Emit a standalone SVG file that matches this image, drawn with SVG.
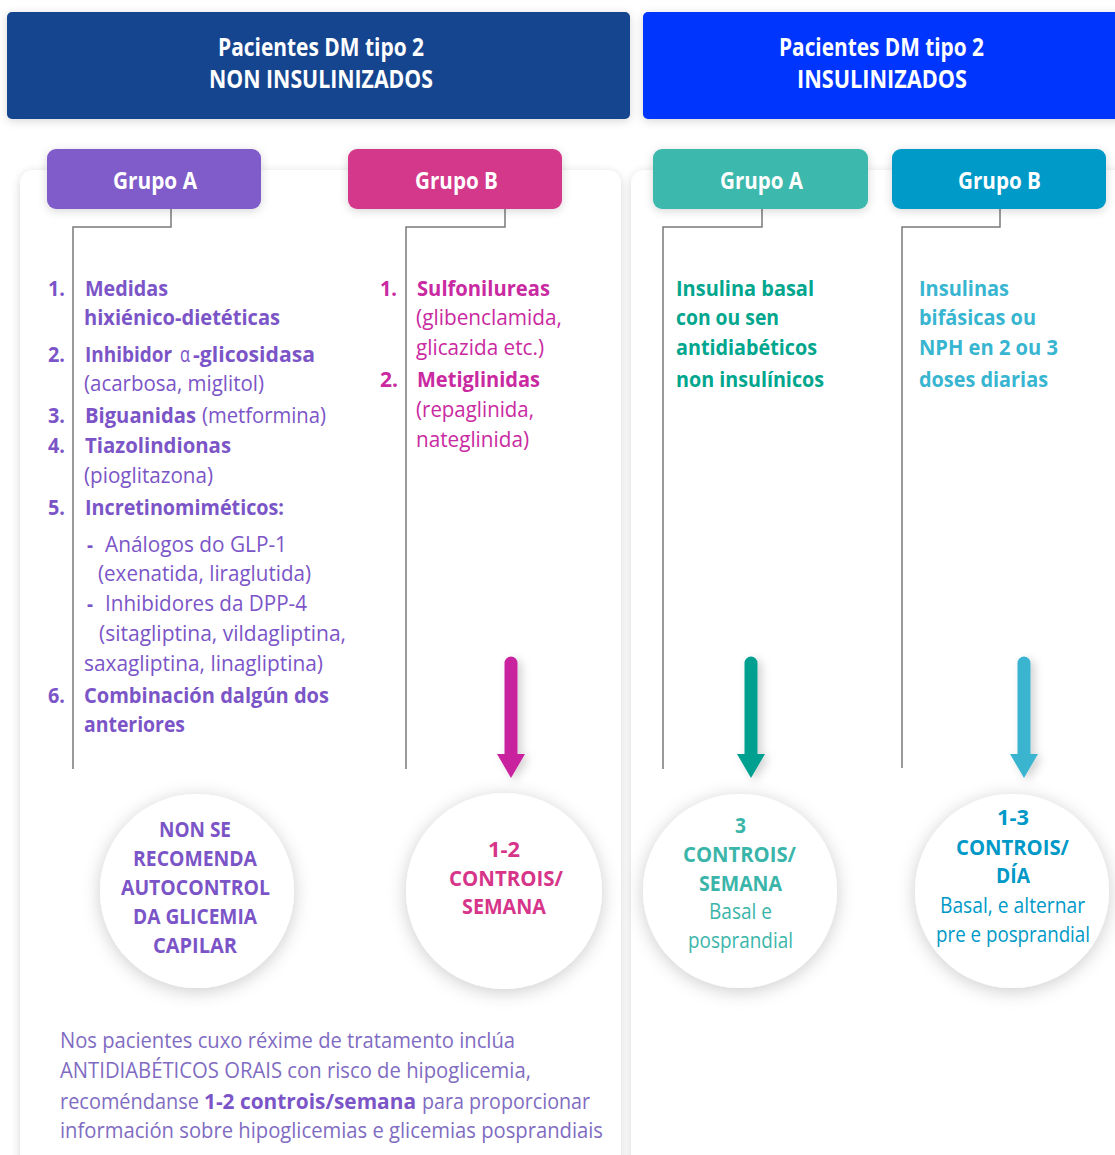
<svg xmlns="http://www.w3.org/2000/svg" width="1115" height="1155" viewBox="0 0 1115 1155">
<defs>
<style>
text{font-family:"Open Sans","Noto Sans","Liberation Sans",sans-serif;}
.hd{font-size:25px;font-weight:700;fill:#fff;}
.gp{font-size:24px;font-weight:700;fill:#fff;}
.b{font-weight:700;}
.r{font-weight:400;}
.li{font-size:22px;}
.pu{fill:#7b55c7;}
.mg{fill:#c92aa1;}
.tl{fill:#00a68d;}
.sk{fill:#38b5d0;}
.ct{font-size:22px;font-weight:700;}
.cr{font-size:22px;font-weight:400;}
.bt{font-size:22px;fill:#7f6cc2;}
.conn{fill:none;stroke:#7a7a7a;stroke-width:1.5;}
</style>
<filter id="sh" x="-20%" y="-20%" width="140%" height="140%">
<feDropShadow dx="0" dy="2" stdDeviation="5" flood-color="#000" flood-opacity="0.16"/>
</filter>
<filter id="shc" x="-30%" y="-30%" width="160%" height="160%">
<feDropShadow dx="0" dy="3" stdDeviation="9" flood-color="#000" flood-opacity="0.2"/>
</filter>
<filter id="sha" x="-100%" y="-20%" width="300%" height="140%">
<feDropShadow dx="4" dy="3" stdDeviation="5" flood-color="#000" flood-opacity="0.18"/>
</filter>
</defs>
<rect width="1115" height="1155" fill="#fff"/>

<!-- panels -->
<g id="panels">
<rect x="20" y="170" width="601" height="1010" rx="14" fill="#fff" filter="url(#sh)"/>
<rect x="631" y="170" width="500" height="1010" rx="14" fill="#fff" filter="url(#sh)"/>
</g>

<!-- headers -->
<g id="header-non">
<rect x="7" y="12" width="623" height="107" rx="5" fill="#14458f" filter="url(#sh)"/>
<text class="hd" x="218" y="56" textLength="206" lengthAdjust="spacingAndGlyphs">Pacientes DM tipo 2</text>
<text class="hd" x="209" y="88" textLength="224" lengthAdjust="spacingAndGlyphs">NON INSULINIZADOS</text>
</g>
<g id="header-ins">
<rect x="643" y="12" width="490" height="107" rx="5" fill="#0535fd" filter="url(#sh)"/>
<text class="hd" x="779" y="56" textLength="205" lengthAdjust="spacingAndGlyphs">Pacientes DM tipo 2</text>
<text class="hd" x="797" y="88" textLength="170" lengthAdjust="spacingAndGlyphs">INSULINIZADOS</text>
</g>

<!-- connectors -->
<g id="connectors">
<path class="conn" d="M171 209 V227 H73 V769"/>
<path class="conn" d="M505 209 V227 H406 V769"/>
<path class="conn" d="M762 209 V227 H663 V769"/>
<path class="conn" d="M1000 209 V227 H902 V768"/>
<g filter="url(#sha)">
<line x1="511" y1="663" x2="511" y2="758" stroke="#c9229f" stroke-width="13" stroke-linecap="round"/>
<polygon points="497,754 525,754 511,778" fill="#c9229f"/>
</g>
<g filter="url(#sha)">
<line x1="751" y1="663" x2="751" y2="758" stroke="#00a090" stroke-width="13" stroke-linecap="round"/>
<polygon points="737,754 765,754 751,778" fill="#00a090"/>
</g>
<g filter="url(#sha)">
<line x1="1024" y1="663" x2="1024" y2="758" stroke="#3ab5cf" stroke-width="13" stroke-linecap="round"/>
<polygon points="1010,754 1038,754 1024,778" fill="#3ab5cf"/>
</g>
</g>

<!-- group buttons -->
<g id="grupo-a-non">
<rect x="47" y="149" width="214" height="60" rx="9" fill="#7f5bc9" filter="url(#sh)"/>
<text class="gp" x="113" y="189" textLength="84" lengthAdjust="spacingAndGlyphs">Grupo A</text>
</g>
<g id="grupo-b-non">
<rect x="348" y="149" width="214" height="60" rx="9" fill="#d4388a" filter="url(#sh)"/>
<text class="gp" x="415" y="189" textLength="83" lengthAdjust="spacingAndGlyphs">Grupo B</text>
</g>
<g id="grupo-a-ins">
<rect x="653" y="149" width="215" height="60" rx="9" fill="#3db8ad" filter="url(#sh)"/>
<text class="gp" x="720" y="189" textLength="83" lengthAdjust="spacingAndGlyphs">Grupo A</text>
</g>
<g id="grupo-b-ins">
<rect x="892" y="149" width="214" height="60" rx="9" fill="#009ac8" filter="url(#sh)"/>
<text class="gp" x="958" y="189" textLength="83" lengthAdjust="spacingAndGlyphs">Grupo B</text>
</g>

<!-- list A non -->
<g id="lista-a-non" class="li pu">
<text class="b" x="48" y="296" textLength="17" lengthAdjust="spacingAndGlyphs">1.</text>
<text class="b" x="85" y="296" textLength="83" lengthAdjust="spacingAndGlyphs">Medidas</text>
<text class="b" x="84" y="325" textLength="196" lengthAdjust="spacingAndGlyphs">hixiénico-dietéticas</text>
<text class="b" x="48" y="362" textLength="17" lengthAdjust="spacingAndGlyphs">2.</text>
<text class="b" x="85" y="362" textLength="87" lengthAdjust="spacingAndGlyphs">Inhibidor</text>
<text class="r" x="180" y="362" textLength="10" lengthAdjust="spacingAndGlyphs">α</text>
<text class="b" x="193" y="362" textLength="122" lengthAdjust="spacingAndGlyphs">-glicosidasa</text>
<text class="r" x="84" y="391" textLength="180" lengthAdjust="spacingAndGlyphs">(acarbosa, miglitol)</text>
<text class="b" x="48" y="423" textLength="17" lengthAdjust="spacingAndGlyphs">3.</text>
<text class="b" x="85" y="423" textLength="111" lengthAdjust="spacingAndGlyphs">Biguanidas</text>
<text class="r" x="202" y="423" textLength="124" lengthAdjust="spacingAndGlyphs">(metformina)</text>
<text class="b" x="48" y="453" textLength="17" lengthAdjust="spacingAndGlyphs">4.</text>
<text class="b" x="85" y="453" textLength="146" lengthAdjust="spacingAndGlyphs">Tiazolindionas</text>
<text class="r" x="84" y="483" textLength="129" lengthAdjust="spacingAndGlyphs">(pioglitazona)</text>
<text class="b" x="48" y="515" textLength="17" lengthAdjust="spacingAndGlyphs">5.</text>
<text class="b" x="85" y="515" textLength="199" lengthAdjust="spacingAndGlyphs">Incretinomiméticos:</text>
<text class="b" x="87" y="552" textLength="6" lengthAdjust="spacingAndGlyphs">-</text>
<text class="r" x="105" y="552" textLength="182" lengthAdjust="spacingAndGlyphs">Análogos do GLP-1</text>
<text class="r" x="98" y="581" textLength="213" lengthAdjust="spacingAndGlyphs">(exenatida, liraglutida)</text>
<text class="b" x="87" y="611" textLength="6" lengthAdjust="spacingAndGlyphs">-</text>
<text class="r" x="105" y="611" textLength="202" lengthAdjust="spacingAndGlyphs">Inhibidores da DPP-4</text>
<text class="r" x="99" y="641" textLength="247" lengthAdjust="spacingAndGlyphs">(sitagliptina, vildagliptina,</text>
<text class="r" x="84" y="671" textLength="239" lengthAdjust="spacingAndGlyphs">saxagliptina, linagliptina)</text>
<text class="b" x="48" y="703" textLength="17" lengthAdjust="spacingAndGlyphs">6.</text>
<text class="b" x="84" y="703" textLength="245" lengthAdjust="spacingAndGlyphs">Combinación dalgún dos</text>
<text class="b" x="84" y="732" textLength="101" lengthAdjust="spacingAndGlyphs">anteriores</text>
</g>

<!-- list B non -->
<g id="lista-b-non" class="li mg">
<text class="b" x="380" y="296" textLength="17" lengthAdjust="spacingAndGlyphs">1.</text>
<text class="b" x="417" y="296" textLength="133" lengthAdjust="spacingAndGlyphs">Sulfonilureas</text>
<text class="r" x="416" y="325" textLength="146" lengthAdjust="spacingAndGlyphs">(glibenclamida,</text>
<text class="r" x="416" y="355" textLength="128" lengthAdjust="spacingAndGlyphs">glicazida etc.)</text>
<text class="b" x="380" y="387" textLength="18" lengthAdjust="spacingAndGlyphs">2.</text>
<text class="b" x="417" y="387" textLength="123" lengthAdjust="spacingAndGlyphs">Metiglinidas</text>
<text class="r" x="416" y="417" textLength="118" lengthAdjust="spacingAndGlyphs">(repaglinida,</text>
<text class="r" x="416" y="447" textLength="113" lengthAdjust="spacingAndGlyphs">nateglinida)</text>
</g>

<!-- list A ins -->
<g id="lista-a-ins" class="li tl b">
<text x="676" y="296" textLength="138" lengthAdjust="spacingAndGlyphs">Insulina basal</text>
<text x="676" y="325" textLength="103" lengthAdjust="spacingAndGlyphs">con ou sen</text>
<text x="676" y="355" textLength="141" lengthAdjust="spacingAndGlyphs">antidiabéticos</text>
<text x="676" y="387" textLength="148" lengthAdjust="spacingAndGlyphs">non insulínicos</text>
</g>

<!-- list B ins -->
<g id="lista-b-ins" class="li sk b">
<text x="919" y="296" textLength="90" lengthAdjust="spacingAndGlyphs">Insulinas</text>
<text x="919" y="325" textLength="117" lengthAdjust="spacingAndGlyphs">bifásicas ou</text>
<text x="919" y="355" textLength="139" lengthAdjust="spacingAndGlyphs">NPH en 2 ou 3</text>
<text x="919" y="387" textLength="129" lengthAdjust="spacingAndGlyphs">doses diarias</text>
</g>

<!-- circles -->
<g id="circulo-a-non">
<circle cx="197" cy="891" r="97" fill="#fff" filter="url(#shc)"/>
<g class="ct pu">
<text x="159" y="837" textLength="72" lengthAdjust="spacingAndGlyphs">NON SE</text>
<text x="133" y="866" textLength="124" lengthAdjust="spacingAndGlyphs">RECOMENDA</text>
<text x="121" y="895" textLength="149" lengthAdjust="spacingAndGlyphs">AUTOCONTROL</text>
<text x="133" y="924" textLength="124" lengthAdjust="spacingAndGlyphs">DA GLICEMIA</text>
<text x="153" y="953" textLength="84" lengthAdjust="spacingAndGlyphs">CAPILAR</text>
</g>
</g>
<g id="circulo-b-non">
<circle cx="504" cy="891" r="98" fill="#fff" filter="url(#shc)"/>
<g class="ct" fill="#d6358a">
<text x="488" y="857" textLength="32" lengthAdjust="spacingAndGlyphs">1-2</text>
<text x="449" y="886" textLength="114" lengthAdjust="spacingAndGlyphs">CONTROIS/</text>
<text x="462" y="914" textLength="84" lengthAdjust="spacingAndGlyphs">SEMANA</text>
</g>
</g>
<g id="circulo-a-ins">
<circle cx="740" cy="891" r="97" fill="#fff" filter="url(#shc)"/>
<g fill="#3bb5aa">
<text class="ct" x="735" y="833" textLength="11" lengthAdjust="spacingAndGlyphs">3</text>
<text class="ct" x="683" y="862" textLength="113" lengthAdjust="spacingAndGlyphs">CONTROIS/</text>
<text class="ct" x="699" y="891" textLength="83" lengthAdjust="spacingAndGlyphs">SEMANA</text>
<text class="cr" x="709" y="919" textLength="63" lengthAdjust="spacingAndGlyphs">Basal e</text>
<text class="cr" x="688" y="948" textLength="105" lengthAdjust="spacingAndGlyphs">posprandial</text>
</g>
</g>
<g id="circulo-b-ins">
<circle cx="1012" cy="891" r="97" fill="#fff" filter="url(#shc)"/>
<g fill="#0099c7">
<text class="ct" x="997" y="825" textLength="32" lengthAdjust="spacingAndGlyphs">1-3</text>
<text class="ct" x="956" y="855" textLength="113" lengthAdjust="spacingAndGlyphs">CONTROIS/</text>
<text class="ct" x="996" y="883" textLength="34" lengthAdjust="spacingAndGlyphs">DÍA</text>
<text class="cr" x="940" y="913" textLength="145" lengthAdjust="spacingAndGlyphs">Basal, e alternar</text>
<text class="cr" x="936" y="942" textLength="154" lengthAdjust="spacingAndGlyphs">pre e posprandial</text>
</g>
</g>

<!-- bottom note -->
<g id="nota">
<text class="bt" x="60" y="1048" textLength="455" lengthAdjust="spacingAndGlyphs">Nos pacientes cuxo réxime de tratamento inclúa</text>
<text class="bt" x="60" y="1078" textLength="471" lengthAdjust="spacingAndGlyphs">ANTIDIABÉTICOS ORAIS con risco de hipoglicemia,</text>
<text class="bt" x="60" y="1109" textLength="139" lengthAdjust="spacingAndGlyphs">recoméndanse</text>
<text class="bt" x="204" y="1109" textLength="212" lengthAdjust="spacingAndGlyphs" style="fill:#7b55c7;font-weight:700">1-2 controis/semana</text>
<text class="bt" x="422" y="1109" textLength="168" lengthAdjust="spacingAndGlyphs">para proporcionar</text>
<text class="bt" x="60" y="1138" textLength="543" lengthAdjust="spacingAndGlyphs">información sobre hipoglicemias e glicemias posprandiais</text>
</g>
</svg>
